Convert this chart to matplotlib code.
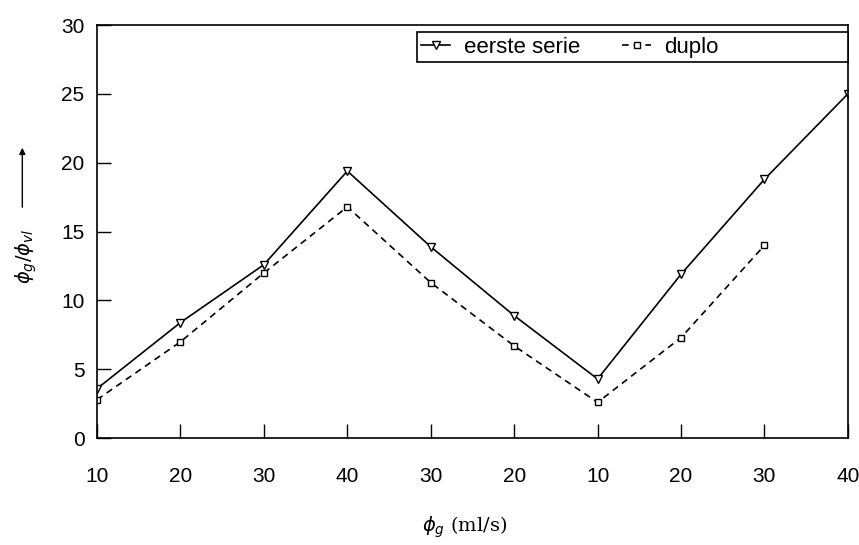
import numpy as np
import matplotlib.pyplot as plt
from matplotlib.patches import Rectangle, FancyArrowPatch

# flow values along the x axis (up, down, up again)
tick_labels = ['10', '20', '30', '40', '30', '20', '10', '20', '30', '40']
eerste_serie = [3.6, 8.4, 12.6, 19.4, 13.9, 8.9, 4.3, 11.9, 18.8, 25.0]
duplo = [2.8, 7.0, 12.0, 16.8, 11.3, 6.7, 2.6, 7.3, 14.0]

plt.rcParams['font.family'] = ['Liberation Sans', 'DejaVu Sans']

fig = plt.figure(figsize=(8.59, 5.45), dpi=100)
ax = fig.add_axes([0.113, 0.196, 0.874, 0.758])

x1 = np.arange(len(eerste_serie))
x2 = np.arange(len(duplo))

ax.plot(x1, eerste_serie, color='black', lw=1.2, marker='v', ms=6,
        mfc='white', mec='black', mew=1.0, label='eerste serie')
ax.plot(x2, duplo, color='black', lw=1.2, ls=(0, (4, 3)), marker='s', ms=5,
        mfc='white', mec='black', mew=1.0, label='duplo')

ax.set_xlim(0, len(tick_labels) - 1)
ax.set_ylim(0, 30)
ax.set_xticks(np.arange(len(tick_labels)))
ax.set_xticklabels(tick_labels)
ax.set_yticks(np.arange(0, 31, 5))

ax.tick_params(axis='both', direction='in', length=10, width=1.0,
               labelsize=15, colors='black')
ax.tick_params(axis='x', pad=21)
ax.tick_params(axis='y', pad=9)
for s in ax.spines.values():
    s.set_linewidth(1.2)

# legend box: wide frame over the right part of the top
ax.add_patch(Rectangle((0.426, 0.910), 0.574, 0.073, transform=ax.transAxes,
                       fill=True, facecolor='white', edgecolor='black',
                       lw=1.2, zorder=4, clip_on=False))
leg = ax.legend(loc='center left', ncol=2, bbox_to_anchor=(0.432, 0.9465),
                frameon=False, fontsize=16, handlelength=1.3,
                handletextpad=0.6, columnspacing=1.9,
                borderaxespad=0.0, borderpad=0.0)
leg.set_zorder(5)

ax.set_xlabel(r'$\phi_g$ (ml/s)', fontsize=14, family='DejaVu Serif')
ax.xaxis.set_label_coords(0.49, -0.185)

fig.text(0.03, 0.53, r'$\phi_g/\phi_{vl}$', rotation=90, fontsize=14,
         ha='center', va='center')
fig.patches.append(FancyArrowPatch(
    (0.026, 1 - 210 / 545), (0.026, 1 - 145 / 545), transform=fig.transFigure,
    arrowstyle='-|>', mutation_scale=9, lw=1.0, color='black'))

fig.savefig('out.png', dpi=100)
